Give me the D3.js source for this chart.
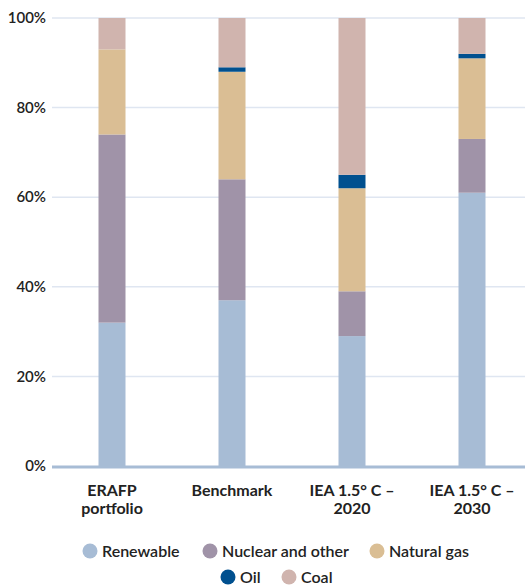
<!DOCTYPE html>
<html>
<head>
<meta charset="utf-8">
<script src="https://cdn.jsdelivr.net/npm/d3@7"></script>
<style>
  html, body { margin: 0; padding: 0; background: #fff; }
  svg { display: block; font-family: Lato, "Open Sans", sans-serif; }
</style>
</head>
<body>
<svg id="chart" width="525" height="586"></svg>
<script>
// Energy mix by portfolio / scenario, in percent of total
const categories = [["ERAFP", "portfolio"], ["Benchmark"], ["IEA 1.5° C –", "2020"], ["IEA 1.5° C –", "2030"]];
const seriesNames = ["Renewable", "Nuclear and other", "Natural gas", "Oil", "Coal"];
const renewable = [32, 37, 29, 61];
const nuclear   = [42, 27, 10, 12];
const naturalGas = [19, 24, 23, 18];
const oil       = [0, 1, 3, 1];
const coal      = [7, 11, 35, 8];
const yTicks = [0, 20, 40, 60, 80, 100];
const colors = ["#a7bcd5", "#a093a8", "#dabe94", "#00508f", "#d0b4ae"];

const series = [renewable, nuclear, naturalGas, oil, coal];
const rows = categories.map((c, i) => {
  const r = { key: i };
  seriesNames.forEach((s, j) => r[s] = series[j][i]);
  return r;
});

const svg = d3.select("#chart");
const plotLeft = 52, plotRight = 532, plotTop = 18, plotBottom = 466;

const x = d3.scaleBand().domain(d3.range(categories.length))
  .range([plotLeft, plotRight]).paddingInner(0.775).paddingOuter(0.3875);
const y = d3.scaleLinear().domain([0, 100]).range([plotBottom, plotTop]);

// gridlines
svg.append("g").selectAll("line").data(yTicks.filter(t => t > 0)).join("line")
  .attr("x1", plotLeft).attr("x2", 525)
  .attr("y1", d => y(d)).attr("y2", d => y(d))
  .attr("stroke", "#dfe6f1").attr("stroke-width", 1.5);

// stacked bars
const stack = d3.stack().keys(seriesNames)(rows);
svg.append("g").selectAll("g").data(stack).join("g")
  .attr("fill", (d, i) => colors[i])
  .selectAll("rect").data(d => d).join("rect")
  .attr("x", d => x(d.data.key))
  .attr("width", x.bandwidth())
  .attr("y", d => y(d[1]))
  .attr("height", d => y(d[0]) - y(d[1]));

// baseline
svg.append("line")
  .attr("x1", plotLeft).attr("x2", 525)
  .attr("y1", y(0) + 1).attr("y2", y(0) + 1)
  .attr("stroke", "#a7bcd5").attr("stroke-width", 3);

// y tick labels
svg.append("g").selectAll("text").data(yTicks).join("text")
  .attr("x", 46).attr("y", d => y(d)).attr("dy", "0.35em")
  .attr("text-anchor", "end")
  .attr("font-size", 15).attr("font-weight", 600).attr("fill", "#222")
  .text(d => d + "%");

// category labels
const catG = svg.append("g").selectAll("text").data(categories).join("text")
  .attr("x", (d, i) => x(i) + x.bandwidth() / 2)
  .attr("y", 496)
  .attr("text-anchor", "middle")
  .attr("font-size", 16).attr("font-weight", 700).attr("fill", "#222");
catG.selectAll("tspan").data(d => d).join("tspan")
  .attr("x", function () { return d3.select(this.parentNode).attr("x"); })
  .attr("dy", (d, i) => i === 0 ? 0 : 18)
  .text(d => d);

// legend
const legendItems = [
  { name: "Renewable", cx: 90, cy: 551, color: colors[0] },
  { name: "Nuclear and other", cx: 210, cy: 551, color: colors[1] },
  { name: "Natural gas", cx: 377, cy: 551, color: colors[2] },
  { name: "Oil", cx: 228, cy: 577, color: colors[3] },
  { name: "Coal", cx: 289, cy: 577, color: colors[4] }
];
const lg = svg.append("g").selectAll("g").data(legendItems).join("g");
lg.append("circle").attr("cx", d => d.cx).attr("cy", d => d.cy).attr("r", 7.5)
  .attr("fill", d => d.color);
lg.append("text").attr("x", d => d.cx + 12).attr("y", d => d.cy).attr("dy", "0.35em")
  .attr("font-size", 16).attr("font-weight", 600).attr("fill", "#222")
  .text(d => d.name);
</script>
</body>
</html>
